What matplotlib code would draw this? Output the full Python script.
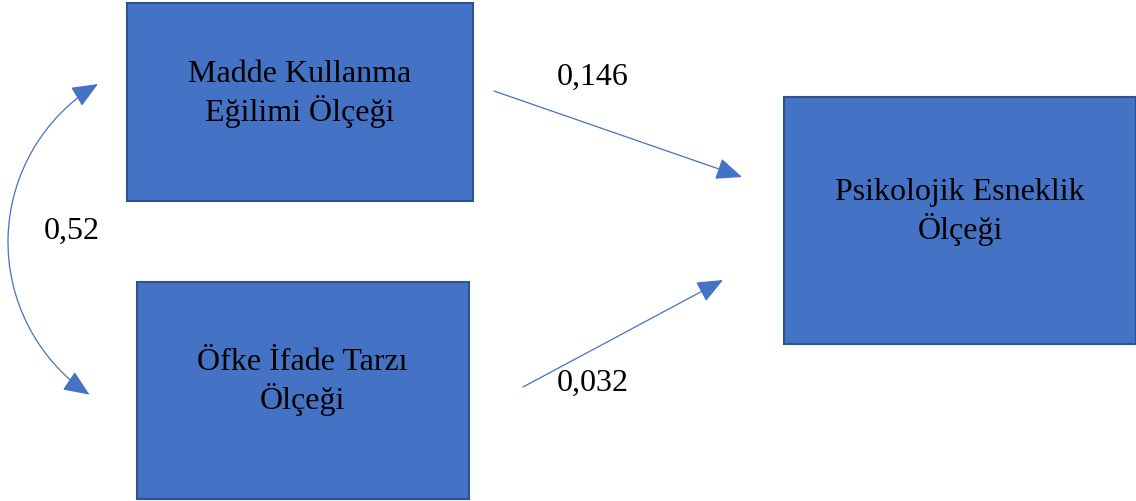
import numpy as np
import matplotlib
matplotlib.use("AGG")
import matplotlib.pyplot as plt
from matplotlib.patches import Rectangle, FancyArrowPatch
from matplotlib.path import Path
from matplotlib.transforms import Affine2D

plt.rcParams['font.family'] = ['Liberation Serif', 'DejaVu Serif']

# boxes: label, (left, top, right, bottom) in picture pixels, text centre
box_labels = ["Madde Kullanma\nEğilimi Ölçeği", "Öfke İfade Tarzı\nÖlçeği", "Psikolojik Esneklik\nÖlçeği"]
box_edges = [(127, 4, 473, 202), (137, 283, 469, 500), (784, 98, 1136, 345)]
box_text_xy = [(300, 94), (302, 382), (960, 212)]

# paths: start, end, coefficient, label position
path_start = [(494, 92), (523, 388)]
path_end = [(742, 178), (723, 281)]
path_coef = ["0,146", "0,032"]
path_label_xy = [(593, 77), (593, 383)]

# covariance arc: circle centre, radius, start/end angle (deg)
cov_centre = (191.7, 243)
cov_radius = 183.7
cov_angles = (123.8, 239.3)
cov_value = "0,52"
cov_label_xy = (72, 231)

fill = "#4472C4"
edge = "#2F528F"

fig = plt.figure(figsize=(11.36, 5.02), dpi=100)
ax = fig.add_axes([0, 0, 1, 1])
ax.set_xlim(0, 1136)
ax.set_ylim(502, 0)
ax.axis("off")

for lab, (l, t, r, b), (tx, ty) in zip(box_labels, box_edges, box_text_xy):
    ax.add_patch(Rectangle((l, t), r - l, b - t, facecolor=fill, edgecolor=edge, linewidth=1.5))
    ax.text(tx, ty, lab, ha="center", va="center", multialignment="center",
            fontsize=23, linespacing=1.22, color="black")

for s, e, c, (lx, ly) in zip(path_start, path_end, path_coef, path_label_xy):
    ax.add_patch(FancyArrowPatch(s, e, arrowstyle="-|>,head_length=0.9,head_width=0.38",
                                 mutation_scale=18, color=fill, linewidth=0.9,
                                 shrinkA=0, shrinkB=0))
    ax.text(lx, ly, c, ha="center", va="center", fontsize=23)

arc = Path.arc(*cov_angles)
arc = arc.transformed(Affine2D().scale(cov_radius).translate(*cov_centre))
ax.add_patch(FancyArrowPatch(path=arc, arrowstyle="<|-|>,head_length=0.9,head_width=0.38",
                             mutation_scale=18, color=fill, linewidth=0.9,
                             transform=ax.transData))
ax.text(cov_label_xy[0], cov_label_xy[1], cov_value, ha="center", va="center", fontsize=23)

plt.savefig("out.png", dpi=100)
